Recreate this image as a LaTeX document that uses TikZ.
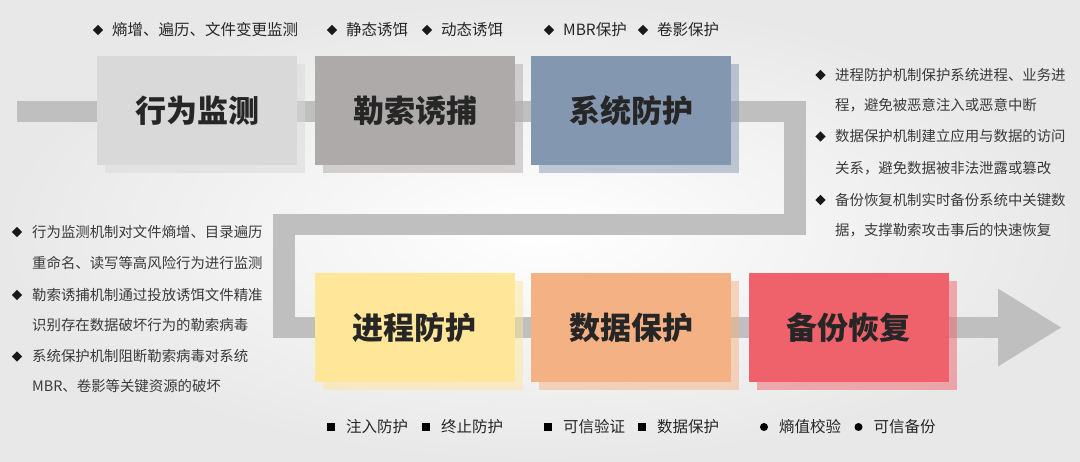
\documentclass[tikz,border=0pt]{standalone}
\usepackage{fontspec}
\setmainfont{Noto Sans CJK SC}
\usetikzlibrary{arrows.meta,shadows,shapes.geometric}
\definecolor{bandgray}{HTML}{BFBFBF}
\definecolor{monitor}{HTML}{D9D9D9}
\definecolor{trap}{HTML}{AEAAAA}
\definecolor{sysprot}{HTML}{8497B0}
\definecolor{procprot}{HTML}{FFE699}
\definecolor{dataprot}{HTML}{F4B183}
\definecolor{backup}{HTML}{EF626B}
\definecolor{darktext}{HTML}{262626}
\definecolor{notetext}{HTML}{3A3A3A}

\begin{document}
\begin{tikzpicture}[x=1pt, y=-1pt,
  stage/.style={fill=#1, minimum width=200pt, minimum height=109pt, inner sep=0pt, text=darktext,
    font=\fontsize{31}{31}\selectfont\bfseries,
    drop shadow={shadow xshift=8pt, shadow yshift=-8pt, fill=#1, opacity=.5}},
  band/.style={draw=bandgray, line width=21.5pt, -{Triangle[length=64pt, width=73pt]}},
  tag/.style={anchor=west, inner sep=0pt, text=darktext, font=\fontsize{15.5}{16}\selectfont},
  note/.style={anchor=west, inner sep=0pt, text=notetext, font=\fontsize{14.4}{15}\selectfont},
  dia/.style={diamond, fill=black!90, inner sep=0pt, minimum width=10.5pt, minimum height=10.5pt},
  sq/.style={rectangle, fill=black, inner sep=0pt, minimum size=8.5pt},
  dot/.style={circle, fill=black, inner sep=0pt, minimum size=8pt}]

\useasboundingbox (0,0) rectangle (1080,462);
\shade[inner color=white, outer color=black!9] (0,0) rectangle (1080,462);

\coordinate (start) at (17,111.5);
\coordinate (turn1) at (795,224.5);
\coordinate (turn2) at (284,327.5);
\coordinate (tip) at (1062,327.5);
\draw[band] (start) -| (turn1) -| (turn2) -- (tip);

\node[stage=monitor] (monitor) at (197,110.5) {行为监测};
\node[stage=trap] (trap) at (415,110.5) {勒索诱捕};
\node[stage=sysprot] (sysprot) at (631,110.5) {系统防护};
\node[stage=procprot] (procprot) at (414.5,327.5) {进程防护};
\node[stage=dataprot] (dataprot) at (631,327.5) {数据保护};
\node[stage=backup] (backup) at (848.5,327.5) {备份恢复};

\foreach \x/\t [count=\i] in {98/熵增、遍历、文件变更监测, 332/静态诱饵, 427/动态诱饵, 549/MBR保护, 643/卷影保护}
{
  \node[dia] (tb\i) at (\x,30) {};
  \node[tag] (tt\i) at (\x+14,30) {\t};
}
\foreach \x/\t [count=\i] in {331/注入防护, 426/终止防护, 548/可信验证, 642/数据保护}
{
  \node[sq] (bb\i) at (\x,427) {};
  \node[tag] (bt\i) at (\x+15,427) {\t};
}
\foreach \x/\t [count=\i] in {764/熵值校验, 858.5/可信备份}
{
  \node[dot] (cb\i) at (\x,427) {};
  \node[tag] (ct\i) at (\x+15,427) {\t};
}

\foreach \y/\t [count=\i] in {75/进程防护机制保护系统进程、业务进, 105/程，避免被恶意注入或恶意中断, 136.5/数据保护机制建立应用与数据的访问, 168/关系，避免数据被非法泄露或篡改, 200/备份恢复机制实时备份系统中关键数, 230/据，支撑勒索攻击事后的快速恢复}
  \node[note] (rn\i) at (835,\y) {\t};
\foreach \y [count=\i] in {75,136.5,200}
  \node[dia] (rd\i) at (820.5,\y) {};

\foreach \y/\t [count=\i] in {232/行为监测机制对文件熵增、目录遍历, 263/重命名、读写等高风险行为进行监测, 295/勒索诱捕机制通过投放诱饵文件精准, 325/识别存在数据破坏行为的勒索病毒, 356.5/系统保护机制阻断勒索病毒对系统, 386.5/MBR、卷影等关键资源的破坏}
  \node[note] (ln\i) at (32,\y) {\t};
\foreach \y [count=\i] in {232,295,356.5}
  \node[dia] (ld\i) at (17,\y) {};
\end{tikzpicture}
\end{document}
